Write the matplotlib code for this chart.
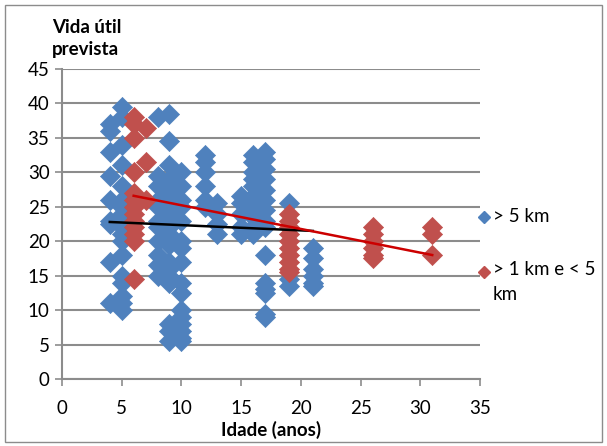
import numpy as np
import matplotlib
matplotlib.use("Agg")
import matplotlib.pyplot as plt
from matplotlib.patches import Rectangle

# --- data -----------------------------------------------------------------
# Series "> 5 km": age (years) -> predicted remaining life
blue_age = [4]*9 + [5]*17 + [8]*11 + [9]*17 + [10]*16 + [12]*6 + [13]*4 + \
           [15]*5 + [16]*10 + [17]*15 + [19]*3 + [21]*6
blue_life = [37, 36, 33, 29.5, 26, 23, 22.5, 17, 11,
             39.5, 38, 34, 31, 28, 26, 25, 24, 22, 21, 20, 18, 15, 14, 12, 11, 10,
             38, 29.5, 28, 26, 25, 23, 22, 20, 18, 16.5, 15,
             38.5, 34.5, 31, 29, 27, 25, 24, 22, 21, 19.5, 17, 16, 15, 14, 8, 7, 5.5,
             30, 28, 26, 25, 23, 20, 19, 17, 14, 12.5, 10, 9, 8, 7, 6, 5.5,
             32.5, 31.5, 30, 28, 26, 25,
             25.5, 24, 22.5, 21,
             26.5, 25.5, 24, 22, 21,
             32.5, 31.5, 30, 29, 28, 26.5, 25, 23.5, 22, 21,
             33, 32, 30.5, 29, 27.5, 26, 24.5, 23, 22, 18, 14, 13, 12.5, 9.5, 9,
             25.5, 14.5, 13.5,
             19, 17.5, 16, 15, 14, 13.5]

# Series "> 1 km e < 5 km"
red_age = [6]*13 + [7]*3 + [19]*10 + [26]*6 + [31]*3
red_life = [38, 37, 35, 30, 27, 26, 25, 24, 23, 22, 21, 20, 14.5,
            36.5, 31.5, 26,
            24, 23, 22, 21, 20, 19, 18, 17, 16, 15.5,
            22, 21, 20, 19, 18, 17.5,
            22, 21, 18]

# Linear trend lines (slope, intercept) and the age span each covers
blue_trend = (-0.0765, 23.1)
blue_span = (4, 21)
red_trend = (-0.344, 28.66)
red_span = (6, 31)

series_labels = ["> 5 km", "> 1 km e < 5\nkm"]
x_ticks = [0, 5, 10, 15, 20, 25, 30, 35]
y_ticks = [0, 5, 10, 15, 20, 25, 30, 35, 40, 45]

# --- styling --------------------------------------------------------------
blue = "#4F81BD"
red = "#C0504D"
grid_gray = "#8C8C8C"
font = ["Lato", "DejaVu Sans"]
plt.rcParams["font.family"] = font

W, H = 607, 446
fig = plt.figure(figsize=(W / 100, H / 100), dpi=100)
ax = fig.add_axes([62 / W, 1 - 379 / H, (480 - 62) / W, (379 - 69) / H])

ax.scatter(blue_age, blue_life, marker="D", s=105, color=blue,
           edgecolors=blue, linewidths=0.5, zorder=3, clip_on=False)
ax.scatter(red_age, red_life, marker="D", s=105, color=red,
           edgecolors=red, linewidths=0.5, zorder=4, clip_on=False)

bx = np.array(blue_span)
ax.plot(bx, blue_trend[0] * bx + blue_trend[1], color="black", lw=1.8, zorder=5)
rx = np.array(red_span)
ax.plot(rx, red_trend[0] * rx + red_trend[1], color="#CC0000", lw=1.8, zorder=5)

ax.set_xlim(0, 35)
ax.set_ylim(0, 45)
ax.set_xticks(x_ticks)
ax.set_yticks(y_ticks)
ax.tick_params(axis="both", labelsize=13.5, color=grid_gray, length=5,
               width=1.2, direction="out", pad=4)
ax.tick_params(axis="x", pad=10)
ax.yaxis.grid(True, color=grid_gray, lw=1.5, zorder=0)
ax.set_axisbelow(True)
for side in ("top", "right"):
    ax.spines[side].set_visible(False)
for side in ("left", "bottom"):
    ax.spines[side].set_color(grid_gray)
    ax.spines[side].set_linewidth(1.5)

ax.set_xlabel("Idade (anos)", fontsize=13.5, fontweight="bold", labelpad=3)
fig.text(52 / W, 1 - 58 / H, "Vida útil\nprevista", fontsize=13.5,
         fontweight="bold", ha="left", va="bottom", linespacing=1.35)

# legend drawn as marker + text
fig.lines.append(plt.Line2D([484 / W], [1 - 217 / H], marker="D", ms=6,
                            color=blue, transform=fig.transFigure))
fig.text(493 / W, 1 - 217 / H, series_labels[0], fontsize=13.5,
         ha="left", va="center")
fig.lines.append(plt.Line2D([484 / W], [1 - 272 / H], marker="D", ms=6,
                            color=red, transform=fig.transFigure))
fig.text(493 / W, 1 - 261 / H, series_labels[1], fontsize=13.5,
         ha="left", va="top", linespacing=1.55)

# chart border
fig.patches.append(Rectangle((5 / W, 4 / H), (W - 10) / W, (H - 9) / H,
                             transform=fig.transFigure, fill=False,
                             edgecolor="#8C8C8C", lw=1))

fig.savefig("out.png", dpi=100)
